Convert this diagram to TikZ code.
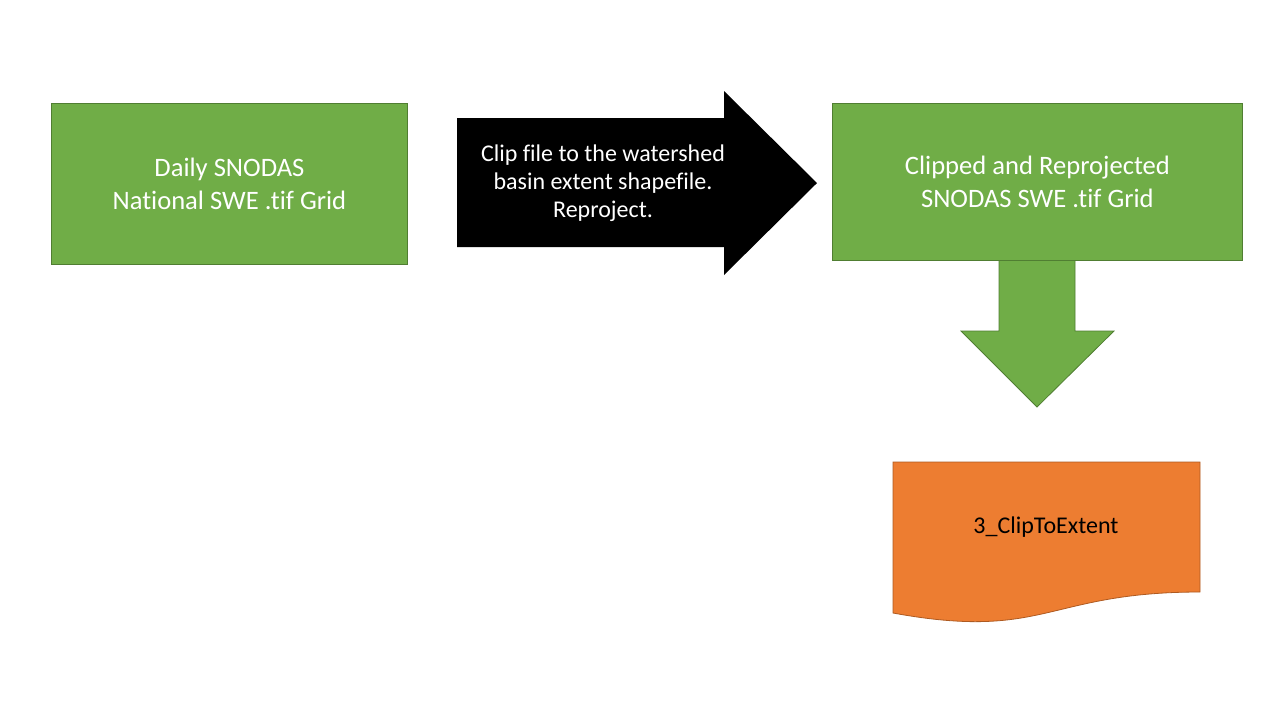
\documentclass[tikz,border=0pt]{standalone}
\usepackage{fontspec}
\setmainfont{Carlito}[Ligatures=NoCommon]
\usetikzlibrary{positioning}
\definecolor{boxGreen}{HTML}{70AD47}
\definecolor{edgeGreen}{HTML}{507E32}
\definecolor{docOrange}{HTML}{ED7D31}
\definecolor{edgeOrange}{HTML}{AE5A21}

\begin{document}
\begin{tikzpicture}[x=0.5pt, y=-0.5pt,
    gridbox/.style={draw=edgeGreen, fill=boxGreen, text=white, align=center,
      inner sep=0pt, anchor=north west, font=\fontsize{13.3}{16.5}\selectfont},
    steptext/.style={text=white, align=center, font=\fontsize{12}{14}\selectfont}]
   \useasboundingbox (0,0) rectangle (1280,720);

   % input grid
   \node[gridbox, minimum width=178pt, minimum height=80.5pt] (daily) at (51,103)
      {Daily SNODAS\\National SWE .tif Grid};

   % processing step
   \fill[black] (457,118) -- (724,118) -- (724,91) -- (817,183)
      -- (724,275) -- (724,247) -- (457,247) -- cycle;
   \node[steptext] (clip) at (603,183)
      {Clip file to the watershed\\basin extent shapefile.\\Reproject.};

   % down arrow, then the output grid over its top
   \draw[edgeGreen, fill=boxGreen] (999,250) -- (1075,250) -- (1075,331) -- (1114,331)
      -- (1037,407) -- (961,331) -- (999,331) -- cycle;
   \node[gridbox, minimum width=205pt, minimum height=78.5pt] (clipped) at (832,103)
      {Clipped and Reprojected\\SNODAS SWE .tif Grid};

   % script document
   \draw[edgeOrange, fill=docOrange] (893,462) -- (1200,462) -- (1200,592)
      .. controls (1046,592) and (1046,641) .. (893,613) -- cycle;
   \node[font=\fontsize{12}{14}\selectfont] (script) at (1046,527) {3\_ClipToExtent};
\end{tikzpicture}
\end{document}
